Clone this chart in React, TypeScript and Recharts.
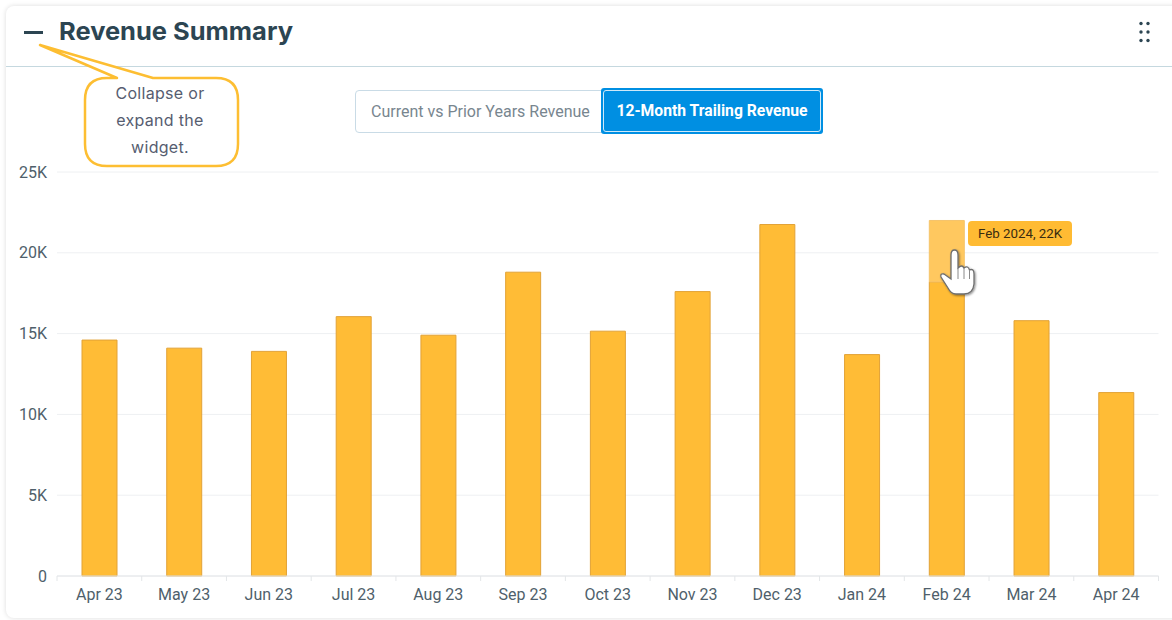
import { BarChart, Bar, XAxis, YAxis, CartesianGrid, Cell, Tooltip } from 'recharts';

const MONTH_LABELS = ['Apr 23', 'May 23', 'Jun 23', 'Jul 23', 'Aug 23', 'Sep 23', 'Oct 23', 'Nov 23', 'Dec 23', 'Jan 24', 'Feb 24', 'Mar 24', 'Apr 24'];
const REVENUE = [14600, 14100, 13900, 16050, 14900, 18800, 15150, 17600, 21750, 13700, 18200, 15800, 11350];
// Feb 24 is highlighted, only the part of the bar above the cursor shows the hover tint
const HOVER_PART = [0, 0, 0, 0, 0, 0, 0, 0, 0, 0, 3800, 0, 0];
const Y_TICKS = [0, 5000, 10000, 15000, 20000, 25000];

const chartData = MONTH_LABELS.map((name, i) => ({ name, revenue: REVENUE[i], hover: HOVER_PART[i] }));

const BAR_COLOR = '#ffbc36';
const BAR_STROKE = '#e2a236';
const HOVER_COLOR = '#ffc85f';
const TEXT_COLOR = '#4f5f6b';
const GRID_COLOR = '#eef0f2';
const BODY_FONT = 'Roboto, sans-serif';

const formatK = (v: number) => (v === 0 ? '0' : `${v / 1000}K`);

function MonthTick({ x = 0, y = 0, payload, width = 0, index = 0 }: any) {
    const band = width / MONTH_LABELS.length;
    return (
        <g>
            <line x1={x - band / 2} x2={x - band / 2} y1={y - 8} y2={y - 3} stroke="#e3e6e8" />
            {index === MONTH_LABELS.length - 1 && (
                <line x1={x + band / 2} x2={x + band / 2} y1={y - 8} y2={y - 3} stroke="#e3e6e8" />
            )}
            <text x={x} y={y + 16} textAnchor="middle" fontSize={16} fontFamily={BODY_FONT} fill={TEXT_COLOR}>
                {payload.value}
            </text>
        </g>
    );
}

const FebTooltip = () => (
    <div style={{ background: '#ffbb33', borderRadius: 4, padding: '0 10px', width: 84, height: 25, lineHeight: '25px', fontSize: 13.3, fontFamily: BODY_FONT, color: '#3a2c10', whiteSpace: 'nowrap' }}>
        Feb 2024, 22K
    </div>
);

function Overlay() {
    return (
        <svg width={1172} height={620} style={{ position: 'absolute', left: 0, top: 0, pointerEvents: 'none' }}>
            <defs>
                <filter id="handShadow" x="-30%" y="-30%" width="160%" height="160%">
                    <feDropShadow dx="1" dy="1" stdDeviation="1.2" floodColor="#000" floodOpacity="0.45" />
                </filter>
            </defs>

            {/* collapse icon and title */}
            <rect x={24} y={31} width={19} height={3} fill="#2c4552" />
            <text x={59} y={40} fontSize={24.5} fontWeight={700} fontFamily="Inter, sans-serif" fill="#2c4552" textLength={234} lengthAdjust="spacingAndGlyphs">
                Revenue Summary
            </text>

            {/* drag handle */}
            {[23.5, 32, 40.5].map(cy => [1141, 1148].map(cx => (
                <circle key={`${cx}-${cy}`} cx={cx} cy={cy} r={1.7} fill="#2c4552" />
            )))}

            {/* callout */}
            <path
                d="M40 45 L153 78 L216 78 Q238 78 238 100 L238 144 Q238 166 216 166 L107 166 Q85 166 85 144 L85 100 Q85 78 107 78 L117 78 Z"
                fill="#fff"
                stroke="#fdbe32"
                strokeWidth={2.5}
                strokeLinejoin="round"
            />
            {[['Collapse or', 99], ['expand the', 126], ['widget.', 153]].map(([line, y]) => (
                <text key={line} x={160} y={y} textAnchor={'middle'} fontSize={16} letterSpacing={0.3} fontFamily="Inter, sans-serif" fill="#565d70">
                    {line}
                </text>
            ))}

            {/* hand cursor */}
            <path
                d="M951 255 Q951 250 954.5 250 Q958 250 958 255 L958 268 Q962 264 964 268 Q968 265 969.5 270 Q974 268 974 274 L974 284 Q973 294 964 294 L956 294 Q951 294 948 288 L941 277 Q940 273 944 274 L951 279 Z"
                fill="#fff"
                stroke="#6e6e6e"
                strokeWidth={1.3}
                filter="url(#handShadow)"
            />
            <path d="M958 268 L958 279 M964 268 L964 279 M969.5 270 L969.5 279" stroke="#8a8a8a" strokeWidth={1} fill="none" />
        </svg>
    );
}

function RangeButtons() {
    return (
        <div style={{ position: 'absolute', left: 355, top: 88, width: 470, height: 46, fontFamily: BODY_FONT, fontSize: 16 }}>
            <div style={{ position: 'absolute', left: 0, top: 2, width: 250, height: 43, boxSizing: 'border-box', border: '1px solid #c9dbe6', borderRadius: 4, background: '#fff', color: '#78868f', lineHeight: '41px', paddingLeft: 15, fontWeight: 400, whiteSpace: 'nowrap' }}>
                Current vs Prior Years Revenue
            </div>
            <div style={{ position: 'absolute', left: 246, top: 0, width: 222, height: 46, boxSizing: 'border-box', background: '#008fe2', borderRadius: 3, padding: 2 }}>
                <div style={{ height: '100%', boxSizing: 'border-box', border: '1px solid #cfe9f9', borderRadius: 3, color: '#fff', fontWeight: 700, fontSize: 15.7, textAlign: 'center', lineHeight: '39px', whiteSpace: 'nowrap' }}>
                    12-Month Trailing Revenue
                </div>
            </div>
        </div>
    );
}

export default function App() {
    return (
        <div style={{ position: 'absolute', left: 0, top: 0, width: 1172, height: 620, overflow: 'hidden', background: '#fff' }}>
            {/* widget card */}
            <div style={{ position: 'absolute', left: 6, top: 6, width: 1180, height: 612, boxSizing: 'border-box', borderRadius: 8, background: '#fff', boxShadow: '0 0 5px rgba(0,0,0,0.14)' }}>
                <div style={{ position: 'absolute', left: 0, right: 0, top: 60, height: 1, background: '#c5d8df' }} />
            </div>

            <div style={{ position: 'absolute', left: 0, top: 0 }}>
                <BarChart
                    width={1172}
                    height={620}
                    data={chartData}
                    margin={{ left: 0, right: 13.5, top: 172, bottom: 0 }}
                    barSize={35}
                >
                    <CartesianGrid vertical={false} stroke={GRID_COLOR} />
                    <XAxis
                        dataKey="name"
                        height={44}
                        interval={0}
                        axisLine={{ stroke: '#e3e6e8' }}
                        tickLine={false}
                        tick={<MonthTick />}
                    />
                    <YAxis
                        width={57}
                        domain={[0, 25000]}
                        ticks={Y_TICKS}
                        tickFormatter={formatK}
                        axisLine={false}
                        tickLine={false}
                        tickMargin={4}
                        tick={{ fontSize: 16, fontFamily: BODY_FONT, fill: TEXT_COLOR }}
                    />
                    <Tooltip
                        active
                        defaultIndex={10}
                        cursor={false}
                        position={{ x: 968, y: 221 }}
                        content={<FebTooltip />}
                        isAnimationActive={false}
                    />
                    <Bar dataKey="revenue" stackId="rev" fill={BAR_COLOR} stroke={BAR_STROKE} isAnimationActive={false} activeBar={false} />
                    <Bar dataKey="hover" stackId="rev" fill={HOVER_COLOR} stroke="#f5c36a" isAnimationActive={false} activeBar={false}>
                        {chartData.map(d => (
                            <Cell key={d.name} strokeWidth={d.hover ? 1 : 0} />
                        ))}
                    </Bar>
                </BarChart>
            </div>

            <RangeButtons />
            <Overlay />
        </div>
    );
}
